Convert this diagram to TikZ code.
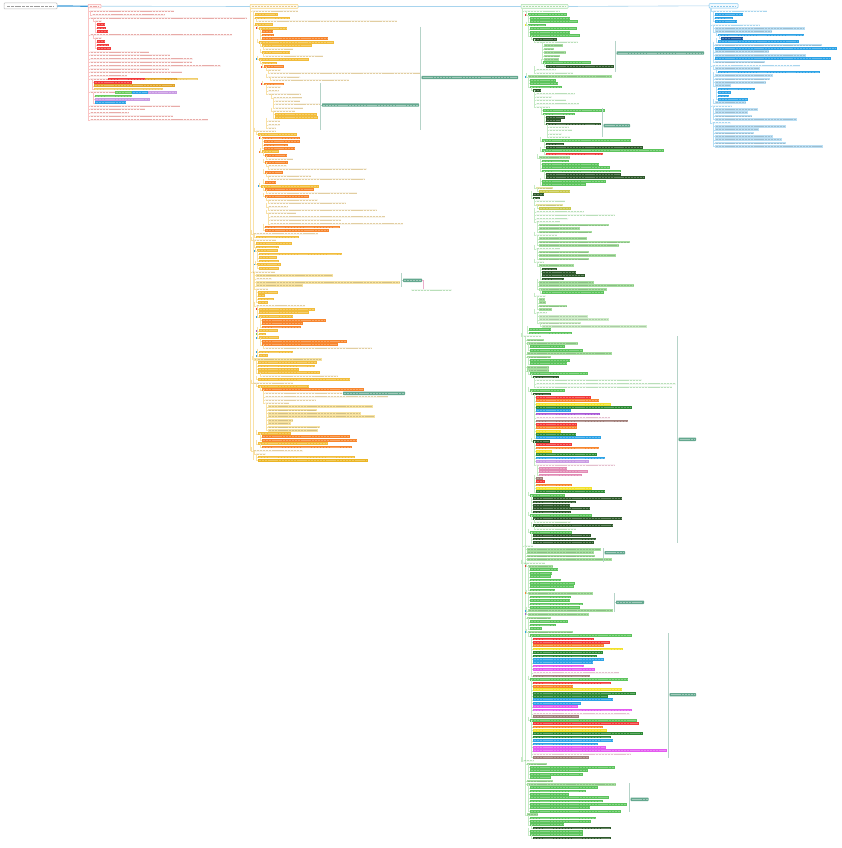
\documentclass[tikz,border=0pt]{standalone}
\usepackage{tikz}
\definecolor{cR}{HTML}{F23B3B}
\definecolor{cO}{HTML}{F7862E}
\definecolor{cY}{HTML}{F2BD3C}
\definecolor{cYd}{HTML}{EBB523}
\definecolor{cYe}{HTML}{F2E12B}
\definecolor{cPY}{HTML}{F7E2A0}
\definecolor{cGd}{HTML}{E0A42A}
\definecolor{cLGd}{HTML}{F0CD6A}
\definecolor{cG}{HTML}{5DC45D}
\definecolor{cLG}{HTML}{A5DE9E}
\definecolor{cPG}{HTML}{CDEDC7}
\definecolor{cDG}{HTML}{2F5A2C}
\definecolor{cG2}{HTML}{2E8B36}
\definecolor{cGr}{HTML}{6CCB5F}
\definecolor{cBl}{HTML}{2EA3E6}
\definecolor{cB}{HTML}{2EA3E6}
\definecolor{cPB}{HTML}{BBDFF4}
\definecolor{cDB}{HTML}{1D5BA3}
\definecolor{cPu}{HTML}{A957D6}
\definecolor{cLPu}{HTML}{C99BE3}
\definecolor{cMg}{HTML}{E45AF0}
\definecolor{cPk}{HTML}{E28BB5}
\definecolor{cBr}{HTML}{A17F7A}
\definecolor{cOl}{HTML}{C8C94E}
\definecolor{cPO}{HTML}{E6E6A3}
\definecolor{cT}{HTML}{64A88F}
\definecolor{tr}{HTML}{D0504C}
\definecolor{to}{HTML}{C49A3C}
\definecolor{tg}{HTML}{6DBE6D}
\definecolor{tb}{HTML}{4AA8DE}
\definecolor{tpk}{HTML}{C97A9A}
\definecolor{brkc}{HTML}{B5D3C8}
\definecolor{topb}{HTML}{3A9AD9}
\definecolor{topl}{HTML}{A8D4EE}
\tikzset{
  brl/.style={draw=gray!30,line width=.35pt},
  brk/.style={draw=brkc,line width=.5pt},
  hdr/.style={draw,line width=.5pt,rounded corners=.8pt,inner sep=0pt}
}
% elbow
\newcommand\EL[2]{\draw[brl] (#1-2,#2-3.4) -- (#1-2,#2) -- (#1,#2);}
% solid bar
\newcommand\RS[4]{\fill[#4] (#1,#2-1.3) rectangle (#3,#2+1.3);
  \draw[white,opacity=.28,line width=.45pt,dash pattern=on 2.2pt off .7pt] (#1+.8,#2) -- (#3-.8,#2);}
\newcommand\RB[4]{\EL{#1}{#2}\RS{#1}{#2}{#3}{#4}}
% pale bar
\newcommand\RP[4]{\EL{#1}{#2}\fill[#4] (#1,#2-1.3) rectangle (#3,#2+1.3);
  \draw[#4!50!black,opacity=.3,line width=.45pt,dash pattern=on 2.2pt off .7pt] (#1+.8,#2) -- (#3-.8,#2);}
% plain text row
\newcommand\RN[4]{\fill[#4,opacity=.1] (#1,#2-1.1) rectangle (#3,#2+1.1);
  \draw[#4,opacity=.42,line width=.5pt,dash pattern=on 2.4pt off .7pt] (#1+.5,#2) -- (#3-.5,#2);}
\newcommand\RT[4]{\EL{#1}{#2}\RN{#1}{#2}{#3}{#4}}
% icon
\newcommand\RI[3]{\fill[#3] (#1-.9,#2-.9) rectangle (#1+.9,#2+.9);}
% callout
\newcommand\CO[4]{\fill[cT,rounded corners=.6pt] (#2,#4-1.7) rectangle (#3,#4+1.7);
  \coordinate (#1) at (#2,#4);\coordinate (#1e) at (#3,#4);
  \draw[white,opacity=.4,line width=.45pt,dash pattern=on 2.2pt off .7pt] (#2+1,#4) -- (#3-1,#4);}
\begin{document}
\begin{tikzpicture}[x=1pt,y=-1pt]
\fill[white] (0,0) rectangle (841,848);
\useasboundingbox (0,0) rectangle (841,848);

% ===== headers =====
\node[hdr,draw=gray!55,fill=white,minimum width=53pt,minimum height=6pt] (root) at (30.5,6) {};
\node[hdr,draw=cR!45,fill=cR!6,minimum width=13pt,minimum height=3.5pt] (hR) at (94.5,6.2) {};
\node[hdr,draw=cY!70,fill=cY!10,minimum width=48pt,minimum height=4pt] (hO) at (274,6.5) {};
\node[hdr,draw=cG!55,fill=cG!8,minimum width=47pt,minimum height=4pt] (hG) at (544.5,6.5) {};
\node[hdr,draw=cB!60,fill=cB!6,minimum width=29pt,minimum height=4.5pt] (hB) at (723.5,5.8) {};
\draw[gray!60!black,opacity=.55,line width=.6pt,dash pattern=on 3pt off .8pt] (7,6) -- (54,6);
\draw[tr,opacity=.5,line width=.5pt,dash pattern=on 2pt off .6pt] (90,6.2) -- (99,6.2);
\draw[to,opacity=.5,line width=.5pt,dash pattern=on 2.4pt off .6pt] (252,6.5) -- (296,6.5);
\draw[tg,opacity=.5,line width=.5pt,dash pattern=on 2.4pt off .6pt] (523,6.5) -- (566,6.5);
\draw[tb,opacity=.6,line width=.5pt,dash pattern=on 2.4pt off .6pt] (711,5.8) -- (736,5.8);
\draw[topb,line width=1.2pt] (root.east) -- (hR.west);
\draw[topl,line width=.6pt] (hR.east) -- (hO.west);
\draw[topl,line width=.6pt] (hO.east) -- (hG.west);
\draw[topl,line width=.6pt] (hG.east) -- (hB.west);

% ===== RED branch =====
\tikzset{brl/.style={draw=cR!30,line width=.35pt}}
\draw[brl] (88,8) -- (88,119.7);
\RT{90}{11.3}{174}{tr}
\RT{92}{14.7}{165}{tr}
\RT{90}{18.3}{247}{tr}
\RT{95}{21.3}{102}{tr}
\RB{97}{24.3}{105}{cR}
\RB{97}{28}{106}{cR}
\RB{97}{31.7}{108}{cR}
\RT{90}{34.7}{232}{tr}
\RT{95}{38.3}{102}{tr}
\RB{97}{41.7}{105}{cR}
\RB{97}{45}{109}{cR}
\RB{97}{48.3}{111}{cR}
\RT{90}{52}{149}{tr}
\RT{90}{55.3}{170}{tr}
\RT{90}{58.7}{193}{tr}
\RT{90}{62}{192}{tr}
\RT{90}{65.7}{221}{tr}
\RT{90}{69}{169}{tr}
\RT{90}{72.3}{182}{tr}
\RT{90}{75.7}{127}{tr}
\RT{90}{79}{108}{tr}\RS{108}{79}{145}{cR}\RS{145}{79}{177}{cGd}\RS{177}{79}{198}{cLGd}
\RB{94}{82.3}{132}{cR}
\RB{94}{85.7}{175}{cGd}
\RB{94}{89}{163}{cLGd}
\RT{90}{92.3}{115}{tr}\RS{115}{92.3}{132}{cGr}\RS{132}{92.3}{148}{cBl}\RS{148}{92.3}{177}{cLPu}
\RB{95}{96}{132}{cGr}
\RB{95}{99.3}{150}{cLPu}
\RB{95}{102.7}{126}{cBl}
\RT{90}{106}{180}{tr}
\RT{90}{109.3}{145}{tr}
\RT{90}{112.7}{129}{tr}
\RT{90}{116.3}{173}{tr}
\RT{90}{119.7}{208}{tr}

% ===== ORANGE branch =====
\tikzset{brl/.style={draw=cY!45,line width=.35pt}}
\draw[brl] (250.5,8.5) -- (250.5,450.7);
\draw[brl] (253.5,13) -- (253.5,460.3);
\RT{252}{11}{298}{to}
\RB{255}{14.7}{278}{cY}
\RB{255}{18}{290}{cY}
\RT{258}{21.3}{397}{to}
\RB{255}{24.7}{273}{cY}
\RI{257}{28.3}{cR}\RB{259}{28.3}{287}{cY}
\RB{262}{31.7}{273}{cO}
\RB{262}{35}{274}{cO}
\RB{262}{38.7}{328}{cO}
\RB{259}{42.3}{334}{cY}
\RB{262}{45.7}{312}{cY}
\RT{265}{49}{293}{to}
\RB{262}{52.3}{290}{cY}
\RT{265}{56}{323}{to}
\RI{257}{59.3}{cBl}\RB{259}{59.3}{309}{cY}
\RB{262}{63}{277}{cY}
\RI{262}{66.7}{cR}\RB{264}{66.7}{284}{cO}
\RT{268}{70}{281}{to}
\RT{270}{73.3}{420}{to}
\RT{268}{77}{300}{to}
\RT{272}{80.3}{349}{to}
\RI{262}{84}{cR}\RB{264}{84}{284}{cO}
\RT{268}{87.3}{281}{to}
\RT{268}{90.7}{279}{to}
\RT{268}{94.3}{301}{to}
\RT{273}{97.7}{302}{to}
\RT{275}{101}{300}{to}
\RT{275}{104.3}{320}{to}
\RT{275}{108}{303}{to}
\RT{273}{111}{295}{to}
\RB{275}{114.3}{317}{cY}
\RB{275}{117.7}{318}{cY}
\RT{268}{121.3}{280}{to}
\RT{268}{124.7}{280}{to}
\RT{268}{128}{276}{to}
\RT{256}{131}{276}{to}
\RB{258}{134.3}{297}{cY}
\RI{260}{138}{cR}\RB{262}{138}{300}{cO}
\RB{264}{141.3}{300}{cO}
\RB{264}{145}{288}{cO}
\RB{264}{148.3}{295}{cO}
\RI{260}{151.7}{cO}\RB{262}{151.7}{279}{cY}
\RB{265}{155.3}{287}{cO}
\RT{268}{159}{293}{to}
\RB{265}{162.3}{288}{cO}
\RT{268}{165.7}{287}{to}
\RT{270}{169}{367}{to}
\RB{265}{172.7}{283}{cO}
\RT{268}{176}{311}{to}
\RT{270}{179.3}{365}{to}
\RB{265}{182.7}{276}{cO}
\RI{259}{186.3}{cBl}\RB{261}{186.3}{319}{cY}
\RB{265}{189.7}{314}{cO}
\RT{268}{193}{357}{to}
\RB{265}{196.3}{309}{cO}
\RT{268}{200}{318}{to}
\RT{270}{203.3}{346}{to}
\RT{268}{206.7}{288}{to}
\RT{270}{210}{377}{to}
\RT{268}{213.3}{296}{to}
\RT{270}{216.7}{385}{to}
\RT{270}{220.3}{341}{to}
\RT{270}{223.7}{403}{to}
\RB{265}{227}{340}{cO}
\RB{265}{230.3}{329}{cO}
\RT{253}{233.7}{318}{to}
\RB{256}{237}{299}{cY}
\RT{253}{240.3}{276}{to}
\RB{256}{243.7}{292}{cY}
\RB{256}{247}{279}{cY}
\RI{255}{250.7}{cBl}\RB{257}{250.7}{278}{cY}
\RB{259}{254}{342}{cY}
\RB{259}{257.7}{277}{cY}
\RB{259}{261}{279}{cY}
\RI{255}{264.5}{cBl}\RB{257}{264.5}{281}{cY}
\RB{259}{268.3}{279}{cY}
\RT{252}{272}{275}{to}
\RP{256}{275.3}{333}{cPY}
\RT{256}{278.7}{272}{to}
\RP{256}{282.3}{400}{cPY}
\RP{256}{285.7}{303}{cPY}
\RT{256}{289}{268}{to}
\RB{258}{292.3}{278}{cY}
\RB{258}{295.7}{265}{cY}
\RB{258}{299}{274}{cY}
\RB{258}{302.3}{268}{cY}
\RT{256}{305.7}{305}{to}
\RI{257}{309.3}{cR}\RB{259}{309.3}{315}{cY}
\RB{259}{312.7}{309}{cY}
\RI{257}{316.7}{cBl}\RB{259}{316.7}{293}{cY}
\RB{262}{320.3}{326}{cO}
\RB{262}{323.7}{303}{cO}
\RB{262}{327}{301}{cO}
\RI{257}{330.7}{cPu}\RB{259}{330.7}{278}{cY}
\RI{257}{334}{cGr}\RB{259}{334}{266}{cY}
\RI{257}{337.7}{cBl}\RB{259}{337.7}{279}{cY}
\RB{262}{341.3}{347}{cO}
\RB{262}{344.7}{338}{cO}
\RT{265}{348.3}{372}{to}
\RI{257}{352}{cBl}\RB{259}{352}{293}{cY}
\RI{257}{355.7}{cBl}\RB{259}{355.7}{268}{cY}
\RP{254}{359.3}{322}{cPY}
\RB{258}{362.7}{317}{cY}
\RB{258}{366}{315}{cY}
\RB{258}{369.3}{299}{cY}
\RB{258}{372.7}{320}{cY}
\RT{262}{376}{338}{to}
\RB{258}{379.3}{350}{cY}
\RT{253}{383}{293}{to}
\RB{258}{386.3}{309}{cY}
\RB{262}{389.7}{364}{cO}
\RT{265}{393.3}{342}{to}
\RT{265}{396.7}{388}{to}
\RT{265}{400}{316}{to}
\RT{265}{403.3}{289}{to}
\RP{268}{406.7}{373}{cPY}
\RP{268}{410}{317}{cPY}
\RP{268}{413.3}{361}{cPY}
\RP{268}{416.7}{375}{cPY}
\RP{268}{420.3}{293}{cPY}
\RP{268}{423.7}{291}{cPY}
\RP{268}{427}{320}{cPY}
\RP{268}{430.3}{318}{cPY}
\RB{258}{433.7}{291}{cY}
\RB{262}{436.7}{350}{cO}
\RB{262}{440.3}{357}{cO}
\RB{258}{443.7}{328}{cY}
\RB{262}{447}{352}{cO}
\RT{253}{450.7}{303}{to}
\RT{256}{454}{266}{to}
\RB{258}{457}{355}{cY}
\RB{258}{460.3}{368}{cYd}

% ===== GREEN branch =====
\tikzset{brl/.style={draw=cG!35,line width=.35pt}}
\draw[brl] (522,8.5) -- (522,760.7);
\draw[brl] (525,337) -- (525,814.7);
\RT{524}{11.3}{560}{tg}
\RI{526}{14.7}{cR}\RB{528}{14.7}{567}{cG}
\RB{530}{18.3}{570}{cG}
\RB{530}{21.7}{578}{cG}
\RI{526}{25}{cYe}\RB{528}{25}{546}{cG}
\RB{530}{28.7}{577}{cG}
\RB{530}{32.3}{570}{cG}
\RB{530}{35.7}{580}{cG}
\RB{533}{39.3}{557}{cDG}
\RT{536}{42.3}{578}{tg}
\RP{544}{45.7}{563}{cLG}
\RP{544}{49}{554}{cLG}
\RP{544}{52.3}{566}{cLG}
\RP{544}{56}{560}{cLG}
\RP{544}{59.3}{559}{cLG}
\RB{543}{62.7}{591}{cG}
\RB{546}{66.3}{614}{cDG}
\RT{536}{69.7}{556}{tg}
\RT{536}{73}{573}{tg}
\RI{526}{76.7}{cBl}\RP{528}{76.7}{612}{cLG}
\RB{530}{80.3}{556}{cG}
\RB{530}{83.3}{558}{cG}
\RB{530}{87}{562}{cG}
\RB{533}{90.3}{541}{cDG}
\RT{536}{93.7}{575}{tg}
\RT{536}{97}{552}{tg}
\RT{536}{100.3}{566}{tg}
\RT{536}{103.7}{579}{tg}
\RT{536}{107.3}{550}{tg}
\RB{543}{110.3}{605}{cG}
\RB{543}{114}{575}{cG}
\RB{546}{117.3}{565}{cDG}
\RB{546}{120.7}{561}{cDG}
\RB{546}{124}{601}{cDG}
\RT{549}{127.3}{569}{tg}
\RT{549}{130.3}{572}{tg}
\RT{549}{134}{562}{tg}
\RT{549}{137.3}{570}{tg}
\RB{542}{140.7}{631}{cG}
\RB{546}{144}{564}{cDG}
\RB{546}{147.3}{643}{cDG}
\RB{542}{150.7}{664}{cG}
\RB{546}{154}{603}{cR}
\RP{539}{157.7}{570}{cLG}
\RB{542}{161}{569}{cG}
\RB{542}{164.3}{599}{cG}
\RB{542}{167.7}{610}{cG}
\RB{542}{171}{621}{cG}
\RB{546}{174.3}{621}{cDG}
\RB{546}{177.7}{645}{cDG}
\RB{542}{181.3}{606}{cG}
\RB{542}{184.7}{586}{cG}
\RP{536}{188}{553}{cPO}
\RB{539}{191.3}{570}{cOl}
\RB{533}{194.7}{544}{cDG}
\RB{533}{198}{540}{cDG}
\RT{536}{201.3}{565}{tg}
\RP{536}{205}{563}{cPO}
\RB{539}{208.3}{571}{cOl}
\RT{536}{211.7}{584}{tg}
\RT{536}{215}{615}{tg}
\RT{536}{218.7}{568}{tg}
\RT{536}{221.7}{560}{tg}
\RP{539}{225}{609}{cLG}
\RP{539}{228.7}{580}{cLG}
\RP{539}{232}{592}{cLG}
\RT{536}{235.3}{557}{tg}
\RP{539}{238.7}{587}{cLG}
\RP{539}{242}{630}{cLG}
\RP{539}{245.3}{619}{cLG}
\RT{536}{248.7}{560}{tg}
\RP{539}{252}{589}{cLG}
\RP{539}{255.3}{616}{cLG}
\RP{539}{259}{589}{cLG}
\RT{536}{262.3}{544}{tg}
\RP{539}{265.7}{574}{cLG}
\RB{542}{269}{557}{cDG}
\RB{542}{272.3}{576}{cDG}
\RB{542}{275.7}{585}{cDG}
\RB{542}{279}{564}{cDG}
\RP{539}{282.3}{594}{cLG}
\RP{539}{285.7}{634}{cLG}
\RP{539}{289.3}{607}{cLG}
\RB{542}{292.7}{604}{cG}
\RT{536}{296}{546}{tg}
\RP{539}{299.3}{545}{cLG}
\RP{539}{302.7}{546}{cLG}
\RP{539}{306}{567}{cLG}
\RP{539}{309.3}{552}{cLG}
\RT{536}{312.7}{547}{tg}
\RP{539}{316.3}{588}{cPG}
\RP{539}{319.7}{609}{cPG}
\RP{539}{323}{581}{cPG}
\RP{542}{326.3}{647}{cPG}
\RB{529}{329.7}{551}{cG}
\RB{529}{333}{572}{cG}
\RT{523}{336.3}{541}{tg}
\RP{527}{340}{544}{cLG}
\RP{527}{343.3}{578}{cLG}
\RB{530}{346.7}{565}{cG}
\RB{530}{350.3}{583}{cG}
\RP{527}{353.7}{612}{cLG}
\RP{527}{357}{551}{cLG}
\RB{530}{360.3}{570}{cG}
\RB{530}{363.7}{567}{cG}
\RP{527}{367.3}{549}{cLG}
\RP{527}{370.7}{549}{cLG}
\RB{530}{373.7}{588}{cG}
\RB{533}{377}{559}{cDG}
\RT{536}{380.3}{642}{tg}
\RT{536}{383.7}{676}{tg}
\RT{536}{387}{672}{tg}
\RB{530}{390.7}{565}{cG}
\RB{533}{394}{551}{cDG}
\RB{536}{397.3}{591}{cR}
\RB{536}{400.7}{599}{cO}
\RB{536}{404.3}{611}{cYe}
\RB{536}{407.3}{632}{cG2}
\RB{536}{410.7}{571}{cBl}
\RB{536}{414}{600}{cPu}
\RT{536}{417.7}{610}{tpk}
\RB{536}{421}{628}{cBr}
\RB{536}{424.3}{577}{cR}
\RB{536}{427.7}{577}{cO}
\RB{536}{431.3}{561}{cYe}
\RB{536}{434.3}{576}{cG2}
\RB{536}{437.7}{601}{cBl}
\RB{533}{441.3}{550}{cDG}
\RB{536}{444.7}{572}{cR}
\RB{536}{448}{599}{cO}
\RB{536}{451.3}{552}{cYe}
\RB{536}{454.7}{597}{cG2}
\RB{536}{458}{605}{cBl}
\RB{536}{461.3}{589}{cLPu}
\RT{536}{465}{615}{tpk}
\RB{539}{468.3}{567}{cPk}
\RB{539}{471.7}{588}{cPk}
\RB{539}{475}{582}{cPk}
\RB{536}{478.3}{543}{cBr}
\RB{536}{481.7}{545}{cR}
\RB{536}{485}{572}{cO}
\RB{536}{488.3}{592}{cYe}
\RB{536}{491.7}{605}{cG2}
\RB{530}{495.3}{565}{cG}
\RB{533}{498.7}{622}{cDG}
\RB{533}{502}{576}{cDG}
\RB{533}{505.3}{570}{cDG}
\RB{533}{508.7}{590}{cDG}
\RB{533}{512}{571}{cDG}
\RB{530}{515.3}{592}{cG}
\RB{533}{518.7}{622}{cDG}
\RT{536}{522.3}{571}{tg}
\RB{533}{525.7}{613}{cDG}
\RT{536}{529}{576}{tg}
\RB{530}{532.3}{572}{cG}
\RB{533}{535.7}{591}{cDG}
\RB{533}{539}{596}{cDG}
\RB{533}{542.7}{594}{cDG}
\RT{524}{546}{533}{tg}
\RP{527}{549.3}{601}{cLG}
\RP{527}{552.7}{594}{cLG}
\RP{527}{556}{595}{cLG}
\RP{527}{559.3}{612}{cLG}
\RT{523}{563}{545}{tg}
\RI{526}{566.3}{cR}\RP{528}{566.3}{553}{cLG}
\RB{530}{569.7}{558}{cG}
\RB{530}{573.3}{552}{cG}
\RB{530}{576.7}{551}{cG}
\RB{530}{580}{561}{cG}
\RB{530}{583.3}{575}{cG}
\RB{530}{586.7}{574}{cG}
\RB{530}{590}{555}{cG}
\RI{526}{593.3}{cO}\RP{528}{593.3}{593}{cLG}
\RB{530}{597}{571}{cG}
\RB{530}{600.3}{570}{cG}
\RB{530}{604}{583}{cG}
\RB{530}{607.3}{580}{cG}
\RI{526}{610.7}{cBl}\RP{528}{610.7}{613}{cLG}
\RI{526}{614.3}{cPu}\RP{528}{614.3}{589}{cLG}
\RP{527}{618}{551}{cLG}
\RB{530}{621.7}{568}{cG}
\RB{530}{625}{556}{cG}
\RB{530}{628.7}{542}{cG}
\RI{526}{632}{cBl}\RP{528}{632}{573}{cLG}
\RB{530}{635.7}{632}{cG}
\RB{533}{639}{594}{cR}
\RB{533}{642.3}{610}{cR}
\RB{533}{645.7}{604}{cO}
\RB{533}{649}{623}{cYe}
\RB{533}{652.7}{603}{cG2}
\RB{533}{656}{597}{cG2}
\RB{533}{659.3}{604}{cBl}
\RB{533}{662.7}{593}{cBl}
\RB{533}{666}{584}{cMg}
\RB{533}{669.3}{595}{cMg}
\RT{533}{672.7}{619}{tpk}
\RB{533}{676}{590}{cBr}
\RB{530}{679.3}{628}{cG}
\RB{533}{683}{611}{cR}
\RB{533}{686.3}{573}{cO}
\RB{533}{689.7}{622}{cYe}
\RB{533}{693.3}{636}{cG2}
\RB{533}{696.3}{608}{cG2}
\RB{533}{699.7}{613}{cBl}
\RB{533}{703.3}{581}{cBl}
\RB{533}{706.7}{578}{cMg}
\RB{533}{710}{632}{cMg}
\RT{533}{713.7}{630}{tpk}
\RB{533}{716.7}{579}{cBr}
\RB{530}{720.3}{637}{cG}
\RB{533}{723.7}{639}{cR}
\RB{533}{727}{603}{cO}
\RB{533}{730.3}{607}{cYe}
\RB{533}{733.7}{643}{cG2}
\RB{533}{737}{611}{cG2}
\RB{533}{740.7}{613}{cBl}
\RB{533}{744}{598}{cBl}
\RB{533}{747.3}{606}{cMg}
\RB{533}{750.7}{667}{cMg}
\RT{533}{754}{631}{tpk}
\RB{533}{757.3}{589}{cBr}
\RT{523}{760.7}{534}{tg}
\RP{527}{764}{547}{cLG}
\RB{530}{767.3}{615}{cG}
\RB{530}{770.7}{588}{cG}
\RB{530}{774.3}{583}{cG}
\RB{530}{777.7}{551}{cG}
\RP{527}{781}{553}{cLG}
\RP{527}{784.3}{616}{cLG}
\RB{530}{787.7}{598}{cG}
\RB{530}{791}{586}{cG}
\RB{530}{794.3}{569}{cG}
\RB{530}{797.7}{609}{cG}
\RB{530}{801}{603}{cG}
\RB{530}{804.3}{627}{cG}
\RB{530}{807.7}{590}{cG}
\RB{530}{811.3}{621}{cG}
\RP{527}{814.7}{538}{cLG}
\RB{530}{818}{596}{cG}
\RB{530}{821.3}{591}{cG}
\RB{530}{824.7}{564}{cG}
\RB{533}{828}{611}{cDG}
\RB{530}{831.3}{583}{cG}
\RB{530}{834.7}{583}{cG}
\RB{533}{838}{611}{cDG}

% ===== BLUE branch =====
\tikzset{brl/.style={draw=cB!35,line width=.35pt}}
\draw[brl] (710.5,8) -- (710.5,122.7);
\RT{713}{11.3}{767}{tb}
\RB{715}{14.7}{743}{cB}
\RB{715}{18}{733}{cB}
\RB{715}{21.3}{737}{cB}
\RT{712}{25}{760}{tb}
\RP{715}{28.3}{805}{cPB}
\RP{715}{31.7}{772}{cPB}
\RB{718}{35}{804}{cB}
\RB{721}{38.3}{743}{cDB}
\RB{718}{41.7}{799}{cB}
\RP{715}{45}{822}{cPB}
\RB{715}{48.3}{837}{cB}
\RP{715}{51.7}{769}{cPB}
\RP{715}{55.3}{806}{cPB}
\RB{715}{58.7}{831}{cB}
\RP{715}{62}{765}{cPB}
\RT{712}{65.7}{800}{tb}
\RP{715}{68.7}{760}{cPB}
\RB{718}{72}{820}{cB}
\RP{715}{75.7}{773}{cPB}
\RP{715}{79}{770}{cPB}
\RP{715}{82.3}{766}{cPB}
\RP{715}{85.7}{731}{cPB}
\RB{718}{89}{755}{cB}
\RB{718}{92.3}{731}{cB}
\RB{718}{96}{729}{cB}
\RB{718}{99.3}{748}{cB}
\RP{715}{102.7}{746}{cPB}
\RT{712}{106}{732}{tb}
\RP{715}{109.3}{758}{cPB}
\RP{715}{112.7}{748}{cPB}
\RP{715}{116}{752}{cPB}
\RP{715}{119.3}{797}{cPB}
\RT{712}{122.7}{731}{tb}
\RP{715}{126.3}{786}{cPB}
\RP{715}{129.7}{759}{cPB}
\RP{715}{133}{754}{cPB}
\RP{715}{136.3}{773}{cPB}
\RP{715}{139.7}{782}{cPB}
\RP{715}{143}{786}{cPB}
\RP{715}{146.3}{823}{cPB}

% ===== callouts with brackets =====
\CO{k1}{421.5}{518}{77.5}
\draw[brk] (420,27) -- (420,130); \draw[brk] (420,77.5) -- (k1);
\CO{k2}{322}{419}{105}
\draw[brk] (320,83) -- (320,130); \draw[brk] (320,105) -- (k2);
\CO{k3}{603.5}{630}{125.7}
\draw[brk] (602,108) -- (602,137); \draw[brk] (602,125.7) -- (k3);
\CO{k4}{616.5}{704}{53}
\draw[brk] (615,41) -- (615,72); \draw[brk] (615,53) -- (k4);
\CO{k5}{403}{422}{280.3}
\draw[brk] (401.5,273) -- (401.5,287); \draw[brk] (401.5,280.3) -- (k5);
\coordinate (t5) at (423.5,289);
\draw[cPk!70,line width=.45pt] (k5e) -| (t5);
\RN{411}{290.3}{452}{tg}
\CO{k6}{343}{405}{393.3}
\CO{k7}{678.5}{696}{439.3}
\draw[brk] (677,336) -- (677,543); \draw[brk] (677,439.3) -- (k7);
\CO{k8}{604.5}{625}{552.7}
\draw[brk] (603,548) -- (603,562); \draw[brk] (603,552.7) -- (k8);
\CO{k9}{616}{644}{602.3}
\draw[brk] (614.7,593) -- (614.7,612); \draw[brk] (614.7,602.3) -- (k9);
\CO{k10}{669.5}{696}{694.7}
\draw[brk] (668,633) -- (668,758); \draw[brk] (668,694.7) -- (k10);
\CO{k11}{630.5}{648.5}{799.3}
\draw[brk] (629,783) -- (629,812); \draw[brk] (629,799.3) -- (k11);
\end{tikzpicture}
\end{document}
